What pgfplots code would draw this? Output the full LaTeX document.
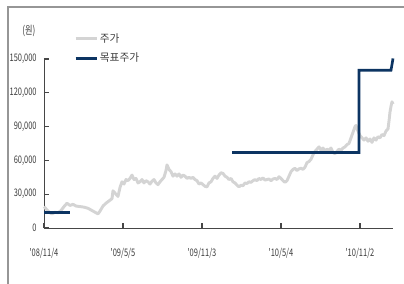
\documentclass[border=0pt]{standalone}
\usepackage{fontspec}
\setmainfont{Noto Sans CJK KR}
\newfontfamily\narrowfont{Noto Sans CJK KR}[FakeStretch=0.72]
\usepackage{pgfplots}
\usepackage{pgfplotstable}
\pgfplotsset{compat=1.18}
\definecolor{pricegray}{RGB}{212,212,212}
\definecolor{navy}{RGB}{12,52,98}
\definecolor{axisgray}{RGB}{70,70,70}
\definecolor{framegray}{RGB}{150,150,150}
\definecolor{txtgray}{RGB}{60,60,60}

% x column: horizontal position (pixels from the first date), value in won
\pgfplotstableread{
px val
44 19000
46 17000
48 15000
50 13500
52 12500
55 14000
58 13500
61 15500
64 19000
67 22000
70 20000
73 21000
76 19500
80 19000
84 18500
88 17500
91 16000
95 14000
98 12500
100 15000
103 19500
106 22000
109 24000
112 26000
113 33000
116 30000
118 28000
120 36000
122 41000
124 39000
126 43000
128 42000
130 44000
132 47000
134 43000
136 44000
138 40000
140 41000
142 43000
144 40000
146 42000
148 41000
150 39000
152 41500
154 43000
156 40000
158 38500
160 41000
162 43000
164 45000
166 51000
167 56000
169 52000
171 50000
173 46000
175 48000
177 46000
179 48000
181 45000
183 47000
185 46000
187 44000
189 45000
191 44000
193 45000
195 43000
197 42000
199 39000
201 40000
203 38500
205 37000
207 36500
209 40000
211 41000
213 44000
215 46000
217 44000
219 47000
221 49000
223 48500
225 46000
227 45000
229 43000
231 44000
233 41000
235 40000
237 38000
239 36500
241 38000
243 37500
245 40000
247 39500
249 41000
251 40500
253 42000
255 43000
257 42000
259 44000
261 43000
263 44500
265 42500
267 43000
269 43500
271 42000
273 43500
275 44000
277 43000
279 45500
281 44000
283 42000
285 40500
287 42000
289 46000
291 50000
293 52000
295 53000
297 51000
299 52500
301 53000
303 52000
305 54000
307 58000
309 59000
311 61000
313 65000
315 68000
317 70000
319 72000
321 69000
323 71000
325 68000
327 70000
329 69000
331 71000
333 67000
335 66000
337 68000
339 70000
341 69000
343 71000
345 72000
347 74000
349 75000
351 80000
353 85000
355 90000
356 91000
358 86000
360 82000
362 80000
364 78000
366 80000
368 77000
370 79000
372 76000
374 80000
376 78000
378 81000
380 80000
382 83000
384 82000
386 86000
388 88000
389 95000
390 103000
391 108000
392 112000
393 110000
}\pricetable

\pgfplotstableread{
px val
44 14000
70 14000
}\targetA

\pgfplotstableread{
px val
232 67000
359 67000
359 140000
391 140000
393 150500
}\targetB

\begin{document}
\begin{tikzpicture}
\path[use as bounding box] (-33pt,-42pt) rectangle (270pt,171pt);
\draw[framegray, line width=0.8pt] (-27pt,-42pt) -- (-27pt,165.75pt) -- (270pt,165.75pt);
\begin{axis}[
  at={(0pt,0pt)}, anchor=south west,
  scale only axis,
  width=261.75pt, height=126.75pt,
  xmin=0, xmax=804,
  ymin=0, ymax=150000,
  scaled y ticks=false,
  clip=false,
  axis lines=left,
  axis line style={axisgray, line width=0.6pt, -},
  tick style={axisgray, line width=0.8pt},
  tick align=inside,
  major tick length=3.5pt,
  xtick={0,182,364,546,728},
  xticklabels={'08/11/4,'09/5/5,'09/11/3,'10/5/4,'10/11/2},
  ytick={0,30000,60000,90000,120000,150000},
  yticklabels={0,{30,000},{60,000},{90,000},{120,000},{150,000}},
  xticklabel style={font=\narrowfont\fontsize{7.8pt}{8pt}\selectfont, text=txtgray, yshift=-12pt},
  yticklabel style={font=\narrowfont\fontsize{7.8pt}{8pt}\selectfont, text=txtgray, xshift=-2pt},
  legend style={at={(rel axis cs:0.086,1.16)}, anchor=north west, draw=none, fill=none,
    font=\fontsize{8pt}{9pt}\selectfont, text=txtgray, row sep=4.5pt, inner sep=0pt,
    nodes={inner sep=1pt}},
  legend cell align=left,
  legend image code/.code={\draw[#1] (0pt,0pt) -- (16pt,0pt);},
]
\addplot[pricegray, line width=2.2pt, line join=round] table[x expr=(\thisrow{px}-44)*182/79, y=val] {\pricetable};
\addlegendentry{주가}
\addplot[navy, line width=2pt] table[x expr=(\thisrow{px}-44)*182/79, y=val] {\targetA};
\addlegendentry{목표주가}
\addplot[navy, line width=2pt, forget plot] table[x expr=(\thisrow{px}-44)*182/79, y=val] {\targetB};
\node[font=\narrowfont\fontsize{8.5pt}{9pt}\selectfont, text=txtgray] at (rel axis cs:-0.043,1.166) {(원)};
\end{axis}
\end{tikzpicture}
\end{document}
